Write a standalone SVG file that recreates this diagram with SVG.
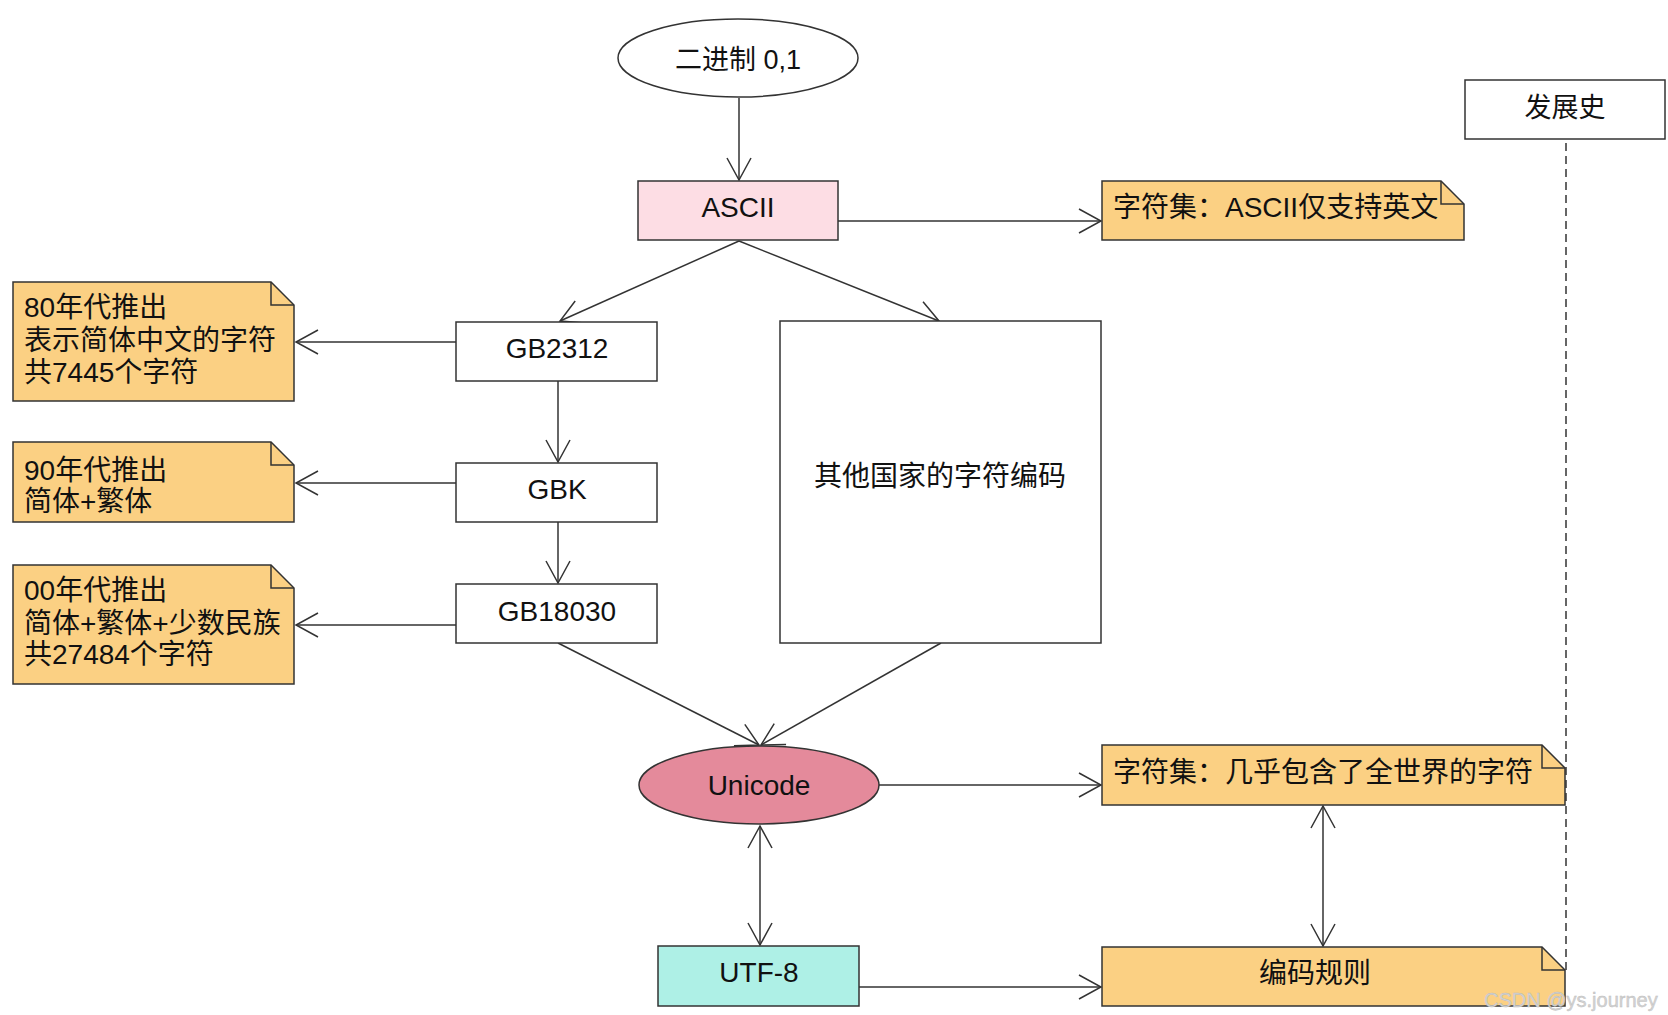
<svg xmlns="http://www.w3.org/2000/svg" width="1668" height="1015" viewBox="0 0 1668 1015">
<style>
text{font-family:"Liberation Sans","Noto Sans CJK SC",sans-serif;font-size:28px;fill:#111}
.c{text-anchor:middle}
.box{fill:#fff;stroke:#333;stroke-width:1.5}
.note{fill:#FBD083;stroke:#333;stroke-width:1.5}
.fold{fill:none;stroke:#333;stroke-width:1.5}
.ln{fill:none;stroke:#333;stroke-width:1.5}
.wm{font-size:20px;fill:#d4d4d4;stroke:#bbb;stroke-width:0.4}
</style>
<defs>
<marker id="arr" viewBox="-24 -14 26 28" refX="0" refY="0" markerWidth="26" markerHeight="28" markerUnits="userSpaceOnUse" orient="auto-start-reverse">
<path d="M-22,-12 L0,0 L-22,12" fill="none" stroke="#333" stroke-width="1.5"/>
</marker>
</defs>
<rect width="1668" height="1015" fill="#fff"/>
<g id="connectors">
<line class="ln" x1="739" y1="98" x2="739" y2="180" marker-end="url(#arr)"/>
<line class="ln" x1="838" y1="221" x2="1101" y2="221" marker-end="url(#arr)"/>
<line class="ln" x1="739" y1="241" x2="560" y2="321" marker-end="url(#arr)"/>
<line class="ln" x1="739" y1="241" x2="939" y2="321" marker-end="url(#arr)"/>
<line class="ln" x1="456" y1="342" x2="296" y2="342" marker-end="url(#arr)"/>
<line class="ln" x1="558" y1="381" x2="558" y2="462" marker-end="url(#arr)"/>
<line class="ln" x1="456" y1="483" x2="296" y2="483" marker-end="url(#arr)"/>
<line class="ln" x1="558" y1="522" x2="558" y2="583" marker-end="url(#arr)"/>
<line class="ln" x1="456" y1="625" x2="296" y2="625" marker-end="url(#arr)"/>
<line class="ln" x1="558" y1="643" x2="759" y2="745" marker-end="url(#arr)"/>
<line class="ln" x1="941" y1="643" x2="761" y2="745" marker-end="url(#arr)"/>
<line class="ln" x1="879" y1="785" x2="1101" y2="785" marker-end="url(#arr)"/>
<line class="ln" x1="760" y1="826" x2="760" y2="945" marker-start="url(#arr)" marker-end="url(#arr)"/>
<line class="ln" x1="1323" y1="806" x2="1323" y2="946" marker-start="url(#arr)" marker-end="url(#arr)"/>
<line class="ln" x1="859" y1="987" x2="1101" y2="987" marker-end="url(#arr)"/>
<line class="ln" x1="1566" y1="143" x2="1566" y2="975" stroke-dasharray="8,5"/>
</g>
<g id="binary">
<ellipse cx="738" cy="58" rx="120" ry="39" class="box"/>
<text class="c" x="738" y="69" style="font-size:27px">二进制 0,1</text>
</g>
<g id="ascii">
<rect x="638" y="181" width="200" height="59" fill="#FDDDE4" stroke="#333" stroke-width="1.5"/>
<text class="c" x="738" y="217">ASCII</text>
</g>
<g id="note-ascii">
<path class="note" d="M1102,181 H1441 L1464,204 V240 H1102 Z"/>
<path class="fold" d="M1441,181 V204 H1464"/>
<text x="1113" y="217">字符集：ASCII仅支持英文</text>
</g>
<g id="history">
<rect x="1465" y="80" width="200" height="59" class="box"/>
<text class="c" x="1565" y="117" style="font-size:27px">发展史</text>
</g>
<g id="gb2312">
<rect x="456" y="322" width="201" height="59" class="box"/>
<text class="c" x="557" y="358">GB2312</text>
</g>
<g id="note-gb2312">
<path class="note" d="M13,282 H271 L294,305 V401 H13 Z"/>
<path class="fold" d="M271,282 V305 H294"/>
<text x="24" y="317">80年代推出</text>
<text x="24" y="350">表示简体中文的字符</text>
<text x="24" y="382">共7445个字符</text>
</g>
<g id="other">
<rect x="780" y="321" width="321" height="322" class="box"/>
<text class="c" x="940" y="486">其他国家的字符编码</text>
</g>
<g id="gbk">
<rect x="456" y="463" width="201" height="59" class="box"/>
<text class="c" x="557" y="499">GBK</text>
</g>
<g id="note-gbk">
<path class="note" d="M13,442 H271 L294,465 V522 H13 Z"/>
<path class="fold" d="M271,442 V465 H294"/>
<text x="24" y="480">90年代推出</text>
<text x="24" y="511">简体+繁体</text>
</g>
<g id="gb18030">
<rect x="456" y="584" width="201" height="59" class="box"/>
<text class="c" x="557" y="621">GB18030</text>
</g>
<g id="note-gb18030">
<path class="note" d="M13,565 H271 L294,588 V684 H13 Z"/>
<path class="fold" d="M271,565 V588 H294"/>
<text x="24" y="600">00年代推出</text>
<text x="24" y="633">简体+繁体+少数民族</text>
<text x="24" y="664">共27484个字符</text>
</g>
<g id="unicode">
<ellipse cx="759" cy="785" rx="120" ry="39" fill="#E48A9B" stroke="#333" stroke-width="1.5"/>
<text class="c" x="759" y="795">Unicode</text>
</g>
<g id="note-unicode">
<path class="note" d="M1102,745 H1542 L1565,768 V805 H1102 Z"/>
<path class="fold" d="M1542,745 V768 H1565"/>
<text x="1113" y="782">字符集：几乎包含了全世界的字符</text>
</g>
<g id="utf8">
<rect x="658" y="946" width="201" height="60" fill="#AEF0E6" stroke="#333" stroke-width="1.5"/>
<text class="c" x="759" y="982">UTF-8</text>
</g>
<g id="note-rule">
<path class="note" d="M1102,947 H1542 L1565,970 V1006 H1102 Z"/>
<path class="fold" d="M1542,947 V970 H1565"/>
<text class="c" x="1315" y="983">编码规则</text>
</g>
<text class="wm" x="1484" y="1007">CSDN @ys.journey</text>
</svg>
